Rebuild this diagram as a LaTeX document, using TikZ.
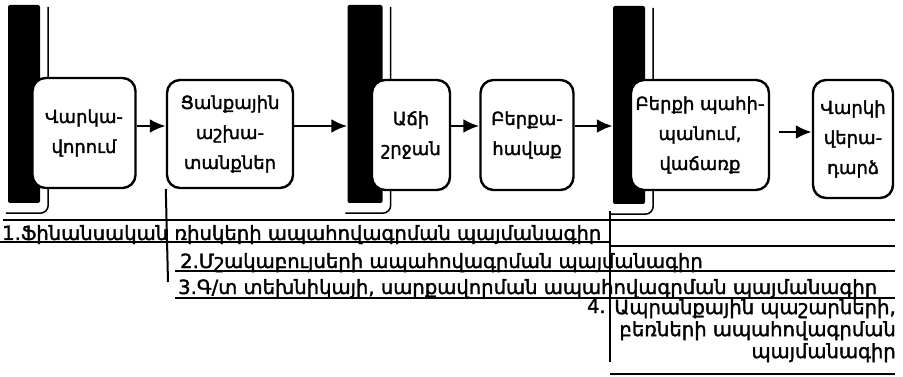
\documentclass[tikz,border=0pt]{standalone}
\usepackage{fontspec}
\setmainfont{DejaVu Sans}[FakeBold=1.8]
\usetikzlibrary{arrows.meta}

\tikzset{
  stage/.style={draw,line width=2.4pt,rounded corners=13pt,fill=white,align=center,inner sep=0pt,font=\fontsize{18}{30}\selectfont},
  pillar/.style={fill=black,inner sep=0pt,minimum height=198pt,rounded corners=2pt},
  flow/.style={-{Latex[length=16pt,width=14pt]},line width=2.8pt},
  rule/.style={line width=2pt},
  clause/.style={inner sep=0pt,font=\fontsize{19.6}{22}\selectfont}
}

\begin{document}
\begin{tikzpicture}[x=1pt,y=-1pt]
    \useasboundingbox (0,0) rectangle (903,377);

    % pillars
    \node[pillar,minimum width=32pt] (bar1) at (24,104) {};
    \node[pillar,minimum width=35pt] (bar2) at (365,104) {};
    \node[pillar,minimum width=32pt] (bar3) at (629,105) {};
    \foreach \b in {bar1,bar2,bar3}
      \draw[line width=1.5pt] ([xshift=8pt,yshift=-2pt]\b.north east) -- ([xshift=8pt,yshift=-2pt]\b.south east)
        to[out=-90,in=0] ([yshift=-10pt]\b.south east) -- ([xshift=-2pt,yshift=-10pt]\b.south west);

    % stages
    \node[stage,minimum width=103pt,minimum height=110pt] (credit) at (84,133) {Վարկա-\\վորում};
    \node[stage,minimum width=126pt,minimum height=108pt] (sowing) at (230,134) {Ցանքային\\աշխա-\\տանքներ};
    \node[stage,minimum width=78pt,minimum height=110pt] (growth) at (411,135) {Աճի\\շրջան};
    \node[stage,minimum width=93pt,minimum height=110pt] (harvest) at (527,135) {Բերքա-\\հավաք};
    \node[stage,minimum width=138pt,minimum height=110pt] (storage) at (700,135) {Բերքի պահի-\\պանում,\\վաճառք};
    \node[stage,minimum width=80pt,minimum height=118pt] (repay) at (853,139) {Վարկի\\վերա-\\դարձ};

    \draw[flow] ([yshift=7pt]credit.east) -- ([yshift=7pt]credit.east -| sowing.west);
    \draw[flow] ([yshift=8pt]sowing.east) -- ([yshift=8pt]sowing.east -| bar2.west);
    \draw[flow] ([yshift=9pt]growth.east) -- ([yshift=9pt]growth.east -| harvest.west);
    \draw[flow] ([yshift=9pt]harvest.east) -- ([yshift=9pt]harvest.east -| bar3.west);
    \draw[flow] ([xshift=9pt,yshift=3pt]storage.east) -- ([yshift=3pt]storage.east -| repay.west);

    % contracts
    \draw[rule] (3,220) -- (895,220);
    \node[clause,anchor=base west] (c1) at (2,240) {1.Ֆինանսական ռիսկերի ապահովագրման պայմանագիր};
    \draw[rule] (0,242) -- (610,242);
    \draw[rule] (610,246) -- (895,246);
    \node[clause,anchor=base west] (c2) at (180,268) {2.Մշակաբույսերի ապահովագրման պայմանագիր};
    \draw[rule] (175,271) -- (895,271);
    \node[clause,anchor=base west] (c3) at (178,294) {3.Գ/տ տեխնիկայի, սարքավորման ապահովագրման պայմանագիր};
    \draw[rule] (175,298) -- (895,298);
    \node[clause,anchor=base east] (c4n) at (606,313) {4.};
    \node[clause,align=right,anchor=north east] (c4) at (896,299) {Ապրանքային պաշարների,\\բեռների ապահովագրման\\պայմանագիր};
    \draw[rule] (610,374) -- (895,374);
    \draw[rule] (sowing.south west) -- (168,282);
    \draw[rule] (610,211) -- (610,362);

  \end{tikzpicture}
\end{document}
